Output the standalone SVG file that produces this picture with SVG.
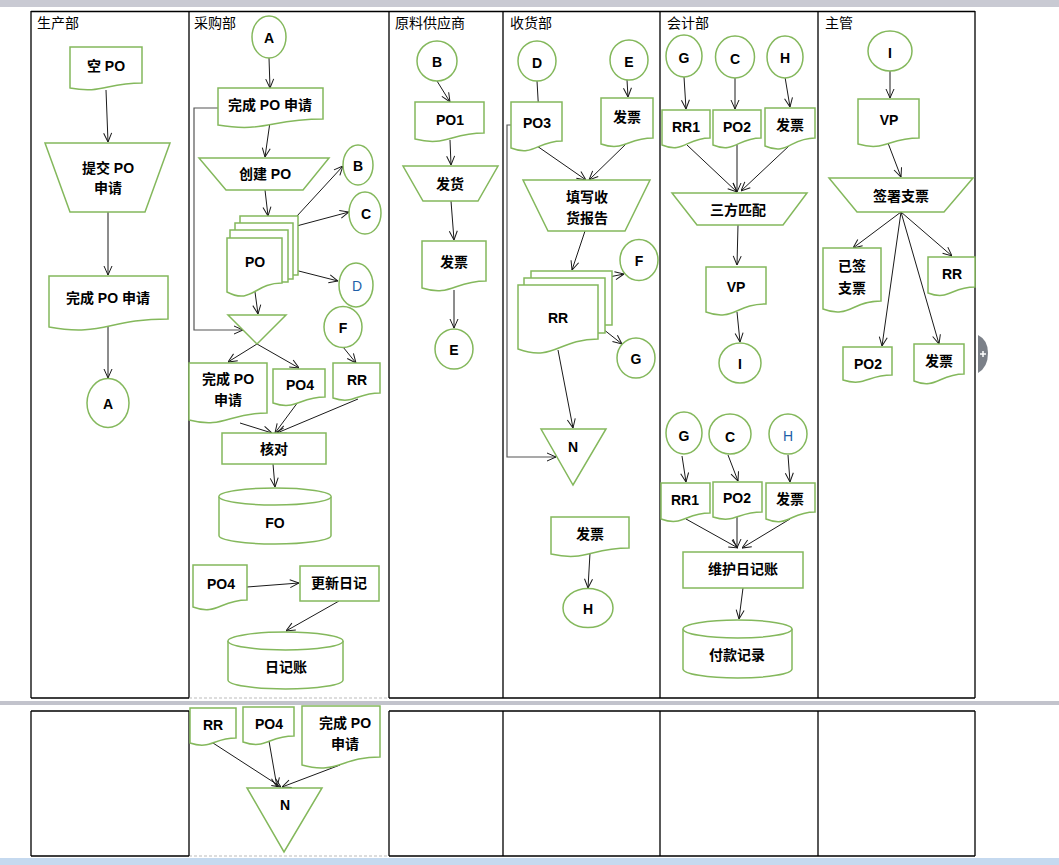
<svg xmlns="http://www.w3.org/2000/svg" width="1059" height="865" viewBox="0 0 1059 865">
<style>
.s{fill:#fff;stroke:#84b85c;stroke-width:1.5}
.t{font-family:"Liberation Sans","Noto Sans CJK SC",sans-serif;font-weight:bold;font-size:14px;fill:#000;text-anchor:middle;dominant-baseline:central}
.tb{font-family:"Liberation Sans","Noto Sans CJK SC",sans-serif;font-size:14px;fill:#1f5fa8;text-anchor:middle;dominant-baseline:central}
.h{font-family:"Noto Sans CJK SC",sans-serif;font-size:14px;fill:#000}
.c{fill:none;stroke:#1a1a1a;stroke-width:1;marker-end:url(#ar)}
.cg{fill:none;stroke:#555;stroke-width:1.2;marker-end:url(#ar)}
.b{stroke:#000;stroke-width:1.3;fill:none}
.d{stroke:#bbb;stroke-width:1;stroke-dasharray:3 2;fill:none}
</style>
<defs>
<marker id="ar" markerUnits="userSpaceOnUse" markerWidth="10" markerHeight="10" viewBox="0 0 10 10" refX="10" refY="5" orient="auto"><path d="M1,1 L10,5 L1,9" fill="none" stroke="#1a1a1a" stroke-width="1"/></marker>
</defs>
<rect width="1059" height="865" fill="#fff"/>
<g id="chrome">
<rect x="0" y="0" width="1059" height="7" fill="#c9cad3"/>
<rect x="0" y="701" width="1059" height="4" fill="#c2c3cc"/>
<rect x="0" y="858" width="1059" height="7" fill="#c5d9ef"/>
<path d="M978 335 Q988 340 988 353 Q988 367 978 373 Z" fill="#7b8088"/>
<path d="M980 354 H986 M983 351 V357" stroke="#fff" stroke-width="1.5"/>
</g>
<g id="lanes">
<path class="b" d="M31 11.5 H975 M31 11 V698 M189 11 V698 M389 11 V698 M503 11 V698 M660 11 V698 M818 11 V698 M975 11 V698 M31 698 H189 M389 698 H975"/>
<path class="d" d="M189 698 H389 M189 856 H389"/>
<path class="b" d="M31 711 H189 M389 711 H975 M31 711 V856 M189 711 V856 M389 711 V856 M503 711 V856 M660 711 V856 M818 711 V856 M975 711 V856 M31 856 H189 M389 856 H975"/>
<text class="h" x="37" y="28">生产部</text>
<text class="h" x="194" y="28">采购部</text>
<text class="h" x="395" y="28">原料供应商</text>
<text class="h" x="510" y="28">收货部</text>
<text class="h" x="667" y="28">会计部</text>
<text class="h" x="825" y="28">主管</text>
</g>
<g id="connectors">
<path class="c" d="M106 90 L108 142"/>
<path class="c" d="M108 212 L108 275"/>
<path class="c" d="M108 327 L108 378"/>
<path class="c" d="M269 58 L270 88"/>
<path class="c" d="M270 122 L265 157"/>
<path class="c" d="M265 190 L268 216"/>
<path class="c" d="M297 216 L343 166"/>
<path class="c" d="M289 228 L349 212"/>
<path class="c" d="M283 267 L338 281"/>
<path class="c" d="M255 292 L258 314"/>
<path class="c" d="M257 344 L228 362"/>
<path class="c" d="M257 344 L299 368"/>
<path class="c" d="M343 347 L356 363"/>
<path class="c" d="M240 423 L272 433"/>
<path class="c" d="M298 402 L275 433"/>
<path class="c" d="M358 399 L277 433"/>
<path class="cg" d="M218 108 H194 V330 H243"/>
<path class="c" d="M273 464 L275 487"/>
<path class="c" d="M247 587 L299 583"/>
<path class="c" d="M339 601 L286 631"/>
<path class="c" d="M437 81 L450 102"/>
<path class="c" d="M450 140 L451 165"/>
<path class="c" d="M451 201 L454 240"/>
<path class="c" d="M454 290 L454 328"/>
<path class="c" d="M537 81 L539 116"/>
<path class="c" d="M627 80 L628 97"/>
<path class="c" d="M537 146 L586 180"/>
<path class="c" d="M627 143 L589 180"/>
<path class="cg" d="M511 125 H507 V457 H556"/>
<path class="c" d="M585 231 L572 270"/>
<path class="c" d="M609 277 L624 274"/>
<path class="c" d="M603 329 L622 344"/>
<path class="c" d="M558 350 L573 428"/>
<path class="c" d="M590 553 L588 588"/>
<path class="c" d="M684 77 L686 109"/>
<path class="c" d="M735 78 L735 109"/>
<path class="c" d="M785 77 L790 107"/>
<path class="c" d="M687 145 L737 192"/>
<path class="c" d="M737 145 L737 192"/>
<path class="c" d="M790 145 L741 191"/>
<path class="c" d="M738 225 L737 265"/>
<path class="c" d="M737 312 L740 342"/>
<path class="c" d="M682 456 L686 482"/>
<path class="c" d="M728 455 L738 481"/>
<path class="c" d="M788 455 L790 482"/>
<path class="c" d="M686 519 L738 548"/>
<path class="c" d="M737 517 L737 548"/>
<path class="c" d="M790 519 L742 548"/>
<path class="c" d="M743 588 L739 619"/>
<path class="c" d="M890 71 L890 98"/>
<path class="c" d="M888 143 L901 177"/>
<path class="c" d="M901 212 L853 248"/>
<path class="c" d="M901 212 L952 256"/>
<path class="c" d="M901 212 L882 346"/>
<path class="c" d="M901 212 L939 344"/>
<path class="c" d="M213 743 L281 787"/>
<path class="c" d="M269 741 L277 787"/>
<path class="c" d="M340 765 L282 787"/>
</g>
<g id="n-kongpo"><path class="s" d="M70 47 H142 V83 C106 83 102 94 70 88 Z"/><text class="t" x="106" y="66">空 PO</text></g>
<g id="n-tijiao"><path class="s" d="M45 143 H170 L145 212 H70 Z"/><text class="t" x="108" y="168">提交 PO</text><text class="t" x="108" y="188">申请</text></g>
<g id="n-wancheng1"><path class="s" d="M49 276 H168 V319 C108 319 102 337 49 327 Z"/><text class="t" x="108" y="298">完成 PO 申请</text></g>
<g id="n-a1"><ellipse class="s" cx="108" cy="403" rx="21" ry="24.5"/><text class="t" x="108" y="404">A</text></g>

<g id="n-a2"><ellipse class="s" cx="269" cy="37" rx="17" ry="21"/><text class="t" x="269" y="38">A</text></g>
<g id="n-wancheng2"><path class="s" d="M218 88 H323 V119 C270 119 265 133 218 125 Z"/><text class="t" x="270" y="105">完成 PO 申请</text></g>
<g id="n-chuangjian"><path class="s" d="M199 158 H329 L303 190 H226 Z"/><text class="t" x="265" y="174">创建 PO</text></g>
<g id="n-po"><rect class="s" x="240" y="216" width="58" height="59"/><rect class="s" x="235" y="223" width="58" height="56"/><rect class="s" x="230" y="230" width="58" height="52"/><path class="s" d="M227 238 H282 V283 C254 283 252 305 227 292 Z"/><text class="t" x="255" y="262">PO</text></g>
<g id="n-b1"><ellipse class="s" cx="358" cy="165" rx="15" ry="20"/><text class="t" x="358" y="166">B</text></g>
<g id="n-c1"><ellipse class="s" cx="365" cy="213" rx="16" ry="21"/><text class="t" x="366" y="214">C</text></g>
<g id="n-d1"><ellipse class="s" cx="356" cy="285" rx="17" ry="22"/><text class="tb" x="357" y="286">D</text></g>
<g id="n-merge1"><path class="s" d="M228 315 H286 L257 344 Z"/></g>
<g id="n-wancheng3"><path class="s" d="M189 363 H267 V413 C228 413 224 429 189 420 Z"/><text class="t" x="228" y="379">完成 PO</text><text class="t" x="228" y="400">申请</text></g>
<g id="n-po4a"><path class="s" d="M273 369 H325 V397 C299 397 296 411 273 403 Z"/><text class="t" x="300" y="385">PO4</text></g>
<g id="n-f1"><ellipse class="s" cx="343" cy="327" rx="19" ry="20.5"/><text class="t" x="343" y="328">F</text></g>
<g id="n-rr1"><path class="s" d="M333 363 H380 V393 C356 393 354 405 333 398 Z"/><text class="t" x="357" y="380">RR</text></g>
<g id="n-hedui"><rect class="s" x="222" y="433" width="104" height="31"/><text class="t" x="274" y="449">核对</text></g>
<g id="n-fo"><path class="s" d="M219 496.5 A56 8.5 0 0 1 331 496.5 V535.5 A56 8.5 0 0 1 219 535.5 Z"/><path class="s" fill="none" d="M219 496.5 A56 8.5 0 0 0 331 496.5"/><text class="t" x="275" y="523">FO</text></g>
<g id="n-po4b"><path class="s" d="M193 565 H247 V600 C220 600 217 616 193 607 Z"/><text class="t" x="221" y="584">PO4</text></g>
<g id="n-gengxin"><rect class="s" x="300" y="566" width="79" height="35"/><text class="t" x="339" y="583">更新日记</text></g>
<g id="n-rijizhang"><path class="s" d="M228 641 A57.5 9 0 0 1 343 641 V680 A57.5 9 0 0 1 228 680 Z"/><path class="s" d="M228 641 A57.5 9 0 0 0 343 641"/><text class="t" x="286" y="667">日记账</text></g>

<g id="n-b2"><ellipse class="s" cx="437" cy="61" rx="20" ry="20"/><text class="t" x="437" y="62">B</text></g>
<g id="n-po1"><path class="s" d="M415 102 H484 V133 C450 133 446 147 415 139 Z"/><text class="t" x="450" y="120">PO1</text></g>
<g id="n-fahuo"><path class="s" d="M403 166 H498 L478 201 H423 Z"/><text class="t" x="450" y="184">发货</text></g>
<g id="n-fapiao1"><path class="s" d="M422 241 H486 V281 C454 281 451 297 422 288 Z"/><text class="t" x="454" y="262">发票</text></g>
<g id="n-e1"><ellipse class="s" cx="454" cy="349" rx="19" ry="20"/><text class="t" x="454" y="350">E</text></g>

<g id="n-d2"><ellipse class="s" cx="537" cy="61" rx="19" ry="20"/><text class="t" x="537" y="63">D</text></g>
<g id="n-po3"><path class="s" d="M511 102 H562 V141 C537 141 534 157 511 148 Z"/><text class="t" x="537" y="123">PO3</text></g>
<g id="n-e2"><ellipse class="s" cx="629" cy="60" rx="19" ry="20"/><text class="t" x="629" y="62">E</text></g>
<g id="n-fapiao2"><path class="s" d="M601 98 H653 V138 C627 138 624 152 601 144 Z"/><text class="t" x="627" y="117">发票</text></g>
<g id="n-tianxie"><path class="s" d="M523 180 H650 L625 231 H548 Z"/><text class="t" x="587" y="197">填写收</text><text class="t" x="587" y="218">货报告</text></g>
<g id="n-rr2"><rect class="s" x="531" y="271" width="81" height="54"/><rect class="s" x="524" y="278" width="81" height="55"/><path class="s" d="M518 285 H598 V339 C558 339 554 362 518 349 Z"/><text class="t" x="558" y="318">RR</text></g>
<g id="n-f2"><ellipse class="s" cx="639" cy="260" rx="19" ry="20.5"/><text class="t" x="639" y="261">F</text></g>
<g id="n-g1"><ellipse class="s" cx="636" cy="358" rx="19" ry="20"/><text class="t" x="636" y="359">G</text></g>
<g id="n-n1"><path class="s" d="M541 429 H606 L573 485 Z"/><text class="t" x="573" y="447">N</text></g>
<g id="n-fapiao3"><path class="s" d="M551 517 H629 V548 C590 548 586 562 551 554 Z"/><text class="t" x="590" y="534">发票</text></g>
<g id="n-h1"><ellipse class="s" cx="588" cy="608" rx="25" ry="19.5"/><text class="t" x="588" y="609">H</text></g>

<g id="n-g2"><ellipse class="s" cx="684" cy="56" rx="18" ry="21"/><text class="t" x="684" y="58">G</text></g>
<g id="n-c2"><ellipse class="s" cx="735" cy="57" rx="19.5" ry="21"/><text class="t" x="735" y="59">C</text></g>
<g id="n-h2"><ellipse class="s" cx="785" cy="57" rx="18" ry="21"/><text class="t" x="785" y="58">H</text></g>
<g id="n-rr1a"><path class="s" d="M662 110 H710 V138 C686 138 684 154 662 145 Z"/><text class="t" x="686" y="127">RR1</text></g>
<g id="n-po2a"><path class="s" d="M713 110 H761 V138 C737 138 735 154 713 145 Z"/><text class="t" x="737" y="127">PO2</text></g>
<g id="n-fapiao4"><path class="s" d="M765 108 H815 V138 C790 138 788 156 765 146 Z"/><text class="t" x="790" y="125">发票</text></g>
<g id="n-sanfang"><path class="s" d="M672 193 H807 L783 225 H697 Z"/><text class="t" x="738" y="210">三方匹配</text></g>
<g id="n-vp1"><path class="s" d="M706 267 H766 V304 C736 304 733 322 706 312 Z"/><text class="t" x="736" y="287">VP</text></g>
<g id="n-i1"><ellipse class="s" cx="740" cy="363" rx="21" ry="20"/><text class="t" x="740" y="364">I</text></g>
<g id="n-g3"><ellipse class="s" cx="684" cy="433" rx="18" ry="21"/><text class="t" x="684" y="436">G</text></g>
<g id="n-c3"><ellipse class="s" cx="730" cy="434" rx="21" ry="20"/><text class="t" x="730" y="437">C</text></g>
<g id="n-h3"><ellipse class="s" cx="788" cy="434" rx="19" ry="20"/><text class="tb" x="788" y="436">H</text></g>
<g id="n-rr1b"><path class="s" d="M661 483 H710 V513 C685 513 683 527 661 519 Z"/><text class="t" x="685" y="500">RR1</text></g>
<g id="n-po2b"><path class="s" d="M713 482 H762 V512 C737 512 735 524 713 517 Z"/><text class="t" x="737" y="498">PO2</text></g>
<g id="n-fapiao5"><path class="s" d="M766 483 H815 V512 C790 512 788 528 766 519 Z"/><text class="t" x="790" y="499">发票</text></g>
<g id="n-weihu"><rect class="s" x="683" y="552" width="120" height="36"/><text class="t" x="743" y="569">维护日记账</text></g>
<g id="n-fukuan"><path class="s" d="M683 629 A54.5 9 0 0 1 792 629 V669 A54.5 9 0 0 1 683 669 Z"/><path class="s" d="M683 629 A54.5 9 0 0 0 792 629"/><text class="t" x="737" y="655">付款记录</text></g>

<g id="n-i2"><ellipse class="s" cx="890" cy="51" rx="22" ry="20"/><text class="t" x="890" y="53">I</text></g>
<g id="n-vp2"><path class="s" d="M858 99 H919 V138 C888 138 885 152 858 144 Z"/><text class="t" x="889" y="120">VP</text></g>
<g id="n-qianshu"><path class="s" d="M829 178 H973 L944 212 H857 Z"/><text class="t" x="901" y="196">签署支票</text></g>
<g id="n-yiqian"><path class="s" d="M823 248 H881 V301 C852 301 849 319 823 309 Z"/><text class="t" x="852" y="266">已签</text><text class="t" x="852" y="288">支票</text></g>
<g id="n-rr3"><path class="s" d="M928 257 H975 V287 C951 287 949 301 928 293 Z"/><text class="t" x="952" y="274">RR</text></g>
<g id="n-po2c"><path class="s" d="M843 347 H892 V375 C867 375 865 387 843 380 Z"/><text class="t" x="868" y="364">PO2</text></g>
<g id="n-fapiao6"><path class="s" d="M914 344 H964 V374 C939 374 936 390 914 381 Z"/><text class="t" x="939" y="361">发票</text></g>

<g id="n-rr4"><path class="s" d="M190 708 H236 V738 C213 738 211 750 190 743 Z"/><text class="t" x="213" y="725">RR</text></g>
<g id="n-po4c"><path class="s" d="M243 707 H294 V736 C268 736 266 750 243 742 Z"/><text class="t" x="269" y="724">PO4</text></g>
<g id="n-wancheng4"><path class="s" d="M302 706 H380 V757 C341 757 337 775 302 765 Z"/><text class="t" x="345" y="723">完成 PO</text><text class="t" x="345" y="744">申请</text></g>
<g id="n-n2"><path class="s" d="M247 788 H322 L284 852 Z"/><text class="t" x="285" y="805">N</text></g>
</svg>
